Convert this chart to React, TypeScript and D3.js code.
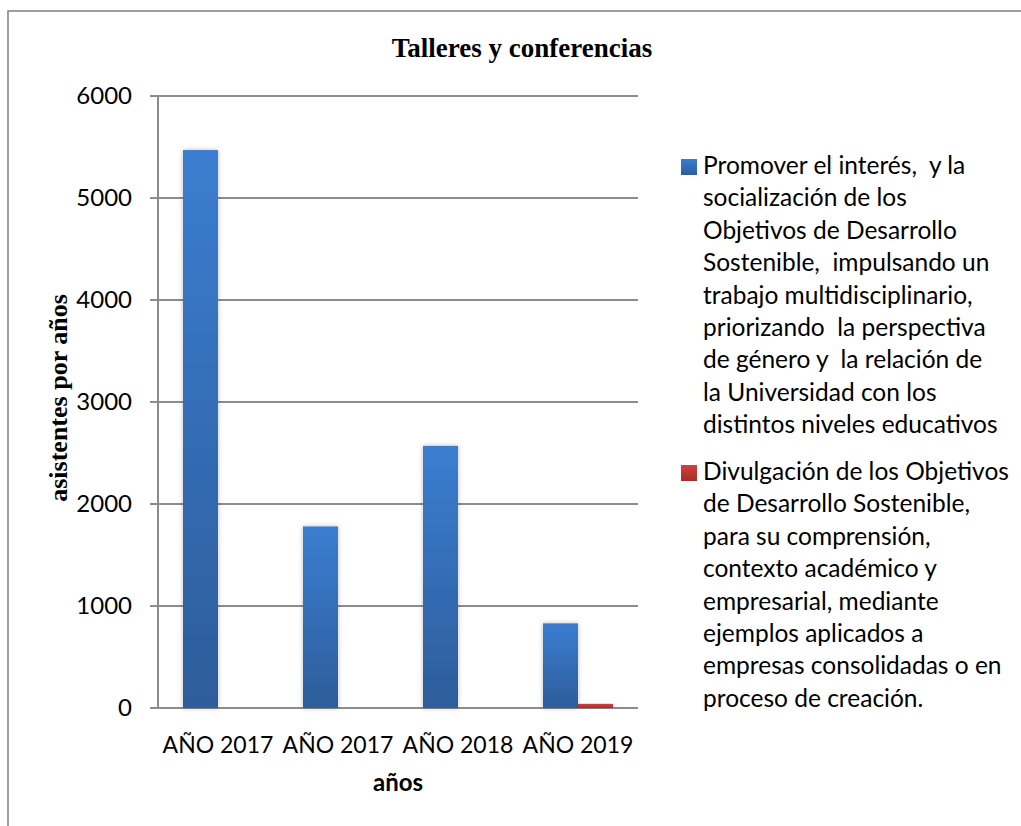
import React, { useEffect, useRef } from 'react';
import * as d3 from 'd3';

const categories = ['AÑO 2017', 'AÑO 2017', 'AÑO 2018', 'AÑO 2019'];
const seriesKeys = ['promover', 'divulgacion'];
const promoverValues = [5470, 1780, 2570, 830];
const divulgacionValues = [0, 0, 0, 40];
const yTicks = [0, 1000, 2000, 3000, 4000, 5000, 6000];

const promoverLegend = [
  'Promover el interés,  y la',
  'socialización de los',
  'Objetivos de Desarrollo',
  'Sostenible,  impulsando un',
  'trabajo multidisciplinario,',
  'priorizando  la perspectiva',
  'de género y  la relación de',
  'la Universidad con los',
  'distintos niveles educativos',
];
const divulgacionLegend = [
  'Divulgación de los Objetivos',
  'de Desarrollo Sostenible,',
  'para su comprensión,',
  'contexto académico y',
  'empresarial, mediante',
  'ejemplos aplicados a',
  'empresas consolidadas o en',
  'proceso de creación.',
];

const W = 1021;
const H = 826;
const sansFont = "Lato, 'Open Sans', sans-serif";
const serifFont = "'Liberation Serif', 'Times New Roman', serif";

const App: React.FC = () => {
  const svgRef = useRef<SVGSVGElement>(null);

  useEffect(() => {
    const svg = d3.select(svgRef.current);
    svg.selectAll('*').remove();

    const left = 158, right = 638, top = 96, bottom = 708;

    const defs = svg.append('defs');
    const gradBlue = defs.append('linearGradient').attr('id', 'gBlue').attr('x1', 0).attr('y1', 0).attr('x2', 0).attr('y2', 1);
    gradBlue.append('stop').attr('offset', '0%').attr('stop-color', '#3b7dd0');
    gradBlue.append('stop').attr('offset', '100%').attr('stop-color', '#2d5d9a');
    const gradRed = defs.append('linearGradient').attr('id', 'gRed').attr('x1', 0).attr('y1', 0).attr('x2', 0).attr('y2', 1);
    gradRed.append('stop').attr('offset', '0%').attr('stop-color', '#d2403c');
    gradRed.append('stop').attr('offset', '100%').attr('stop-color', '#a32e2b');
    const shadow = defs.append('filter').attr('id', 'shadow')
      .attr('x', '-30%').attr('y', '-10%').attr('width', '160%').attr('height', '120%');
    shadow.append('feDropShadow').attr('dx', 0).attr('dy', 0).attr('stdDeviation', 2.5)
      .attr('flood-color', '#000').attr('flood-opacity', 0.25);

    // frame
    svg.append('path')
      .attr('d', `M8,${H} L8,11 L${W},11`)
      .attr('fill', 'none').attr('stroke', '#7f7f7f').attr('stroke-width', 1.5);

    // title
    svg.append('text')
      .attr('x', 522).attr('y', 57)
      .attr('text-anchor', 'middle')
      .style('font-family', serifFont).style('font-weight', 'bold').style('font-size', '27px')
      .text('Talleres y conferencias');

    const x = d3.scaleBand<number>()
      .domain(d3.range(categories.length))
      .range([left, right])
      .paddingInner(50 / 120)
      .paddingOuter(25 / 120);
    const xs = d3.scaleBand<string>().domain(seriesKeys).range([0, x.bandwidth()]);
    const y = d3.scaleLinear().domain([0, 6000]).range([bottom, top]);

    // gridlines + ticks
    svg.append('g').selectAll('line')
      .data(yTicks)
      .enter()
      .append('line')
      .attr('x1', left - 8).attr('x2', right)
      .attr('y1', d => y(d)).attr('y2', d => y(d))
      .attr('stroke', '#8c8c8c').attr('stroke-width', 2);
    svg.append('line')
      .attr('x1', left).attr('x2', left).attr('y1', top).attr('y2', bottom)
      .attr('stroke', '#8c8c8c').attr('stroke-width', 2);

    svg.append('g').selectAll('text')
      .data(yTicks)
      .enter()
      .append('text')
      .attr('x', 132).attr('y', d => y(d))
      .attr('dy', '0.35em')
      .attr('text-anchor', 'end')
      .style('font-family', sansFont).style('font-size', '24px').style('fill', '#000')
      .text(d => String(d));

    // bars
    const seriesData = [
      { key: 'promover', values: promoverValues, fill: 'url(#gBlue)' },
      { key: 'divulgacion', values: divulgacionValues, fill: 'url(#gRed)' },
    ];
    seriesData.forEach(s => {
      svg.append('g').selectAll('rect')
        .data(s.values.map((v, i) => ({ v, i })).filter(d => d.v > 0))
        .enter()
        .append('rect')
        .attr('x', d => (x(d.i) as number) + (xs(s.key) as number))
        .attr('y', d => y(d.v))
        .attr('width', xs.bandwidth())
        .attr('height', d => y(0) - y(d.v))
        .attr('fill', s.fill)
        .attr('filter', 'url(#shadow)');
    });

    // x labels
    svg.append('g').selectAll('text')
      .data(categories)
      .enter()
      .append('text')
      .attr('x', (d, i) => (x(i) as number) + x.bandwidth() / 2)
      .attr('y', 753)
      .attr('text-anchor', 'middle')
      .style('font-family', sansFont).style('font-size', '23px')
      .text(d => d);

    svg.append('text')
      .attr('x', (left + right) / 2).attr('y', 791)
      .attr('text-anchor', 'middle')
      .style('font-family', sansFont).style('font-size', '24px').style('font-weight', 'bold')
      .text('años');

    svg.append('text')
      .attr('transform', `translate(67, 398) rotate(-90)`)
      .attr('text-anchor', 'middle')
      .style('font-family', serifFont).style('font-size', '26px').style('font-weight', 'bold')
      .text('asistentes por años');

    // legend
    const legends = [
      { lines: promoverLegend, fill: 'url(#gBlue)', y0: 174 },
      { lines: divulgacionLegend, fill: 'url(#gRed)', y0: 480 },
    ];
    legends.forEach(l => {
      svg.append('rect')
        .attr('x', 681).attr('y', l.y0 - 15)
        .attr('width', 16).attr('height', 16)
        .attr('fill', l.fill);
      svg.append('g').selectAll('text')
        .data(l.lines)
        .enter()
        .append('text')
        .attr('x', 703)
        .attr('y', (d, i) => l.y0 + i * 32.4)
        .style('font-family', sansFont).style('font-size', '24.5px')
        .style('white-space', 'pre')
        .attr('xml:space', 'preserve')
        .text(d => d);
    });
  }, []);

  return (
    <svg
      ref={svgRef}
      width={W}
      height={H}
      style={{ position: 'absolute', left: 0, top: 0, display: 'block', background: '#fff' }}
    />
  );
};

export default App;
